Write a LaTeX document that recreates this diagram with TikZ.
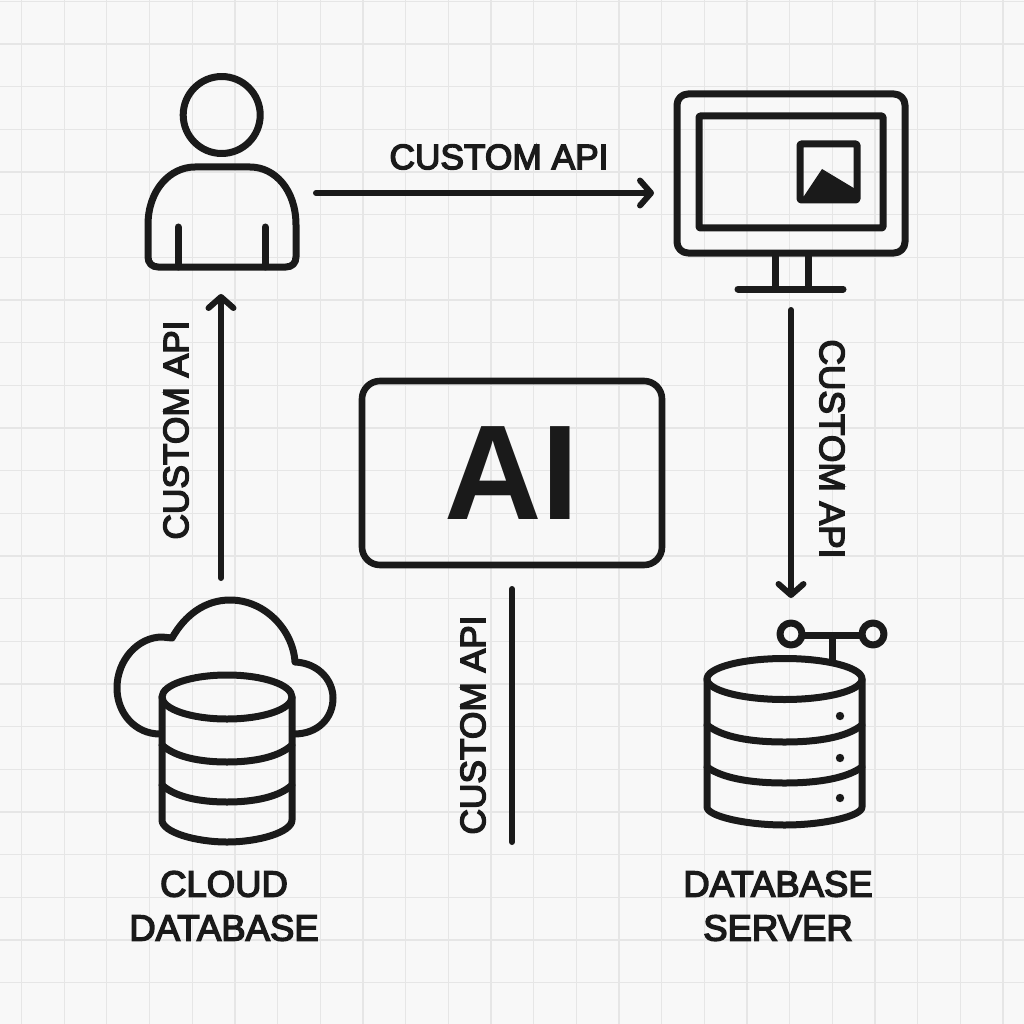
\documentclass[tikz,border=0pt]{standalone}
\usepackage{fontspec}
\setmainfont{Liberation Sans}
\newfontfamily\labelfont[FakeBold=4]{Liberation Sans}
\usetikzlibrary{arrows.meta}
\definecolor{ink}{HTML}{1A1A1A}
\definecolor{paper}{HTML}{F8F8F8}
\definecolor{gridc}{HTML}{E6E6E6}
\tikzset{
  icon/.style={draw=ink,line width=7pt,line join=round,line cap=round},
  flow/.style={draw=ink,line width=6pt,line cap=round,-{Straight Barb[length=11pt,width=25pt,round]}},
  plainflow/.style={draw=ink,line width=6pt,line cap=round},
  lab/.style={text=ink,font=\labelfont\fontsize{35.3}{44}\selectfont,inner sep=0pt,align=center},
  caplab/.style={lab,font=\labelfont\fontsize{36.5}{44}\selectfont},
  aibox/.style={draw=ink,line width=6.6pt,rounded corners=18pt,minimum width=300pt,minimum height=184pt,inner sep=0pt,text=ink}
}
\begin{document}
\begin{tikzpicture}[x=1pt,y=-1pt]
\useasboundingbox (0,0) rectangle (1024,1024);
\fill[paper] (0,0) rectangle (1024,1024);
% grid
\foreach \k in {0,...,23} {
  \draw[gridc,line width=1.3pt] ({21.5+42.67*\k},0) -- ({21.5+42.67*\k},1024);
  \draw[gridc,line width=1.3pt] (0,{1.3+42.67*\k}) -- (1024,{1.3+42.67*\k});
}
% person
\draw[icon] (221.7,115) circle (38.5pt);
\draw[icon] (148,225) .. controls (148,190) and (170,167) .. (195,167) -- (250,167) .. controls (275,167) and (296,190) .. (296,225) -- (296,257) .. controls (296,263) and (292,267) .. (286,267) -- (158,267) .. controls (152,267) and (148,263) .. (148,257) -- cycle;
\draw[icon] (178,227) -- (178,267);
\draw[icon] (265,227) -- (265,267);
% monitor
\draw[icon,rounded corners=11pt] (677,94) rectangle (905,253);
\draw[icon,rounded corners=1pt] (699,116) rectangle (883,228);
\draw[icon,rounded corners=1pt] (800,144) rectangle (857,200);
\fill[ink] (802,199) -- (822,169) -- (857,190) -- (857,200) -- cycle;
\draw[icon,line cap=butt] (775,253) -- (775,289);
\draw[icon,line cap=butt] (808,253) -- (808,289);
\draw[icon] (738,289) -- (843,289);
% cloud
\draw[icon] (160,734) .. controls (135,734) and (117,713) .. (117,688) .. controls (117,660) and (138,637) .. (162,637) -- (172,638) .. controls (185,615) and (205,600) .. (230,600) .. controls (265,600) and (293,630) .. (295,662) .. controls (318,663) and (333,680) .. (333,698) .. controls (333,718) and (318,734) .. (294,734);
% cloud database cylinder
\draw[icon] (227,697) ellipse [x radius=65pt,y radius=22pt];
\draw[icon] (162,697) -- (162,820) .. controls (162,832) and (195,842) .. (227,842) .. controls (259,842) and (292,832) .. (292,820) -- (292,697);
\foreach \a/\b in {745/762,785/802} {
  \draw[icon] (162,\a) .. controls (175,{\b-5}) and (200,\b) .. (227,\b) .. controls (254,\b) and (279,{\b-5}) .. (292,\a);
}
% database server
\draw[icon] (784.5,679) ellipse [x radius=77.5pt,y radius=20.5pt];
\draw[icon] (707,679) -- (707,807) .. controls (707,816) and (745,825) .. (784.5,825) .. controls (824,825) and (862,816) .. (862,807) -- (862,679);
\foreach \a/\b in {725/742,767/783} {
  \draw[icon] (707,\a) .. controls (722,{\b-5}) and (750,\b) .. (784.5,\b) .. controls (819,\b) and (847,{\b-5}) .. (862,\a);
}
\foreach \y in {716,758,798} { \fill[ink] (840,\y) circle (4.2pt); }
\draw[icon,line cap=butt] (802,635) -- (862,635);
\draw[icon,line cap=butt] (832,635) -- (832,661);
\draw[icon] (791,634) circle (11pt);
\draw[icon] (873,634) circle (11pt);
% AI box
\node[aibox] (ai) at (512,473) {\fontsize{135}{140}\selectfont\bfseries AI};
% connector ends
\coordinate (personout) at (316,193);
\coordinate (monitorin) at (654,193);
\coordinate (cloudout) at (221,578);
\coordinate (personin) at (221,294);
\coordinate (monitorout) at (791,310);
\coordinate (serverin) at (791,598);
\coordinate (aiout) at (512,589);
\coordinate (aiend) at (512,842);
\draw[flow] (personout) -- (monitorin);
\draw[flow] (cloudout) -- (personin);
\draw[flow] (monitorout) -- (serverin);
\draw[plainflow] (aiout) -- (aiend);
% labels
\node[lab] (l1) at (499,157) {CUSTOM API};
\node[lab,rotate=90] (l2) at (176,430) {CUSTOM API};
\node[lab,rotate=-90] (l3) at (832,449) {CUSTOM API};
\node[lab,rotate=90] (l4) at (473,725) {CUSTOM API};
\node[caplab] (cloudlabel) at (224,906) {CLOUD\\DATABASE};
\node[caplab] (serverlabel) at (778,906) {DATABASE\\SERVER};
\end{tikzpicture}
\end{document}
